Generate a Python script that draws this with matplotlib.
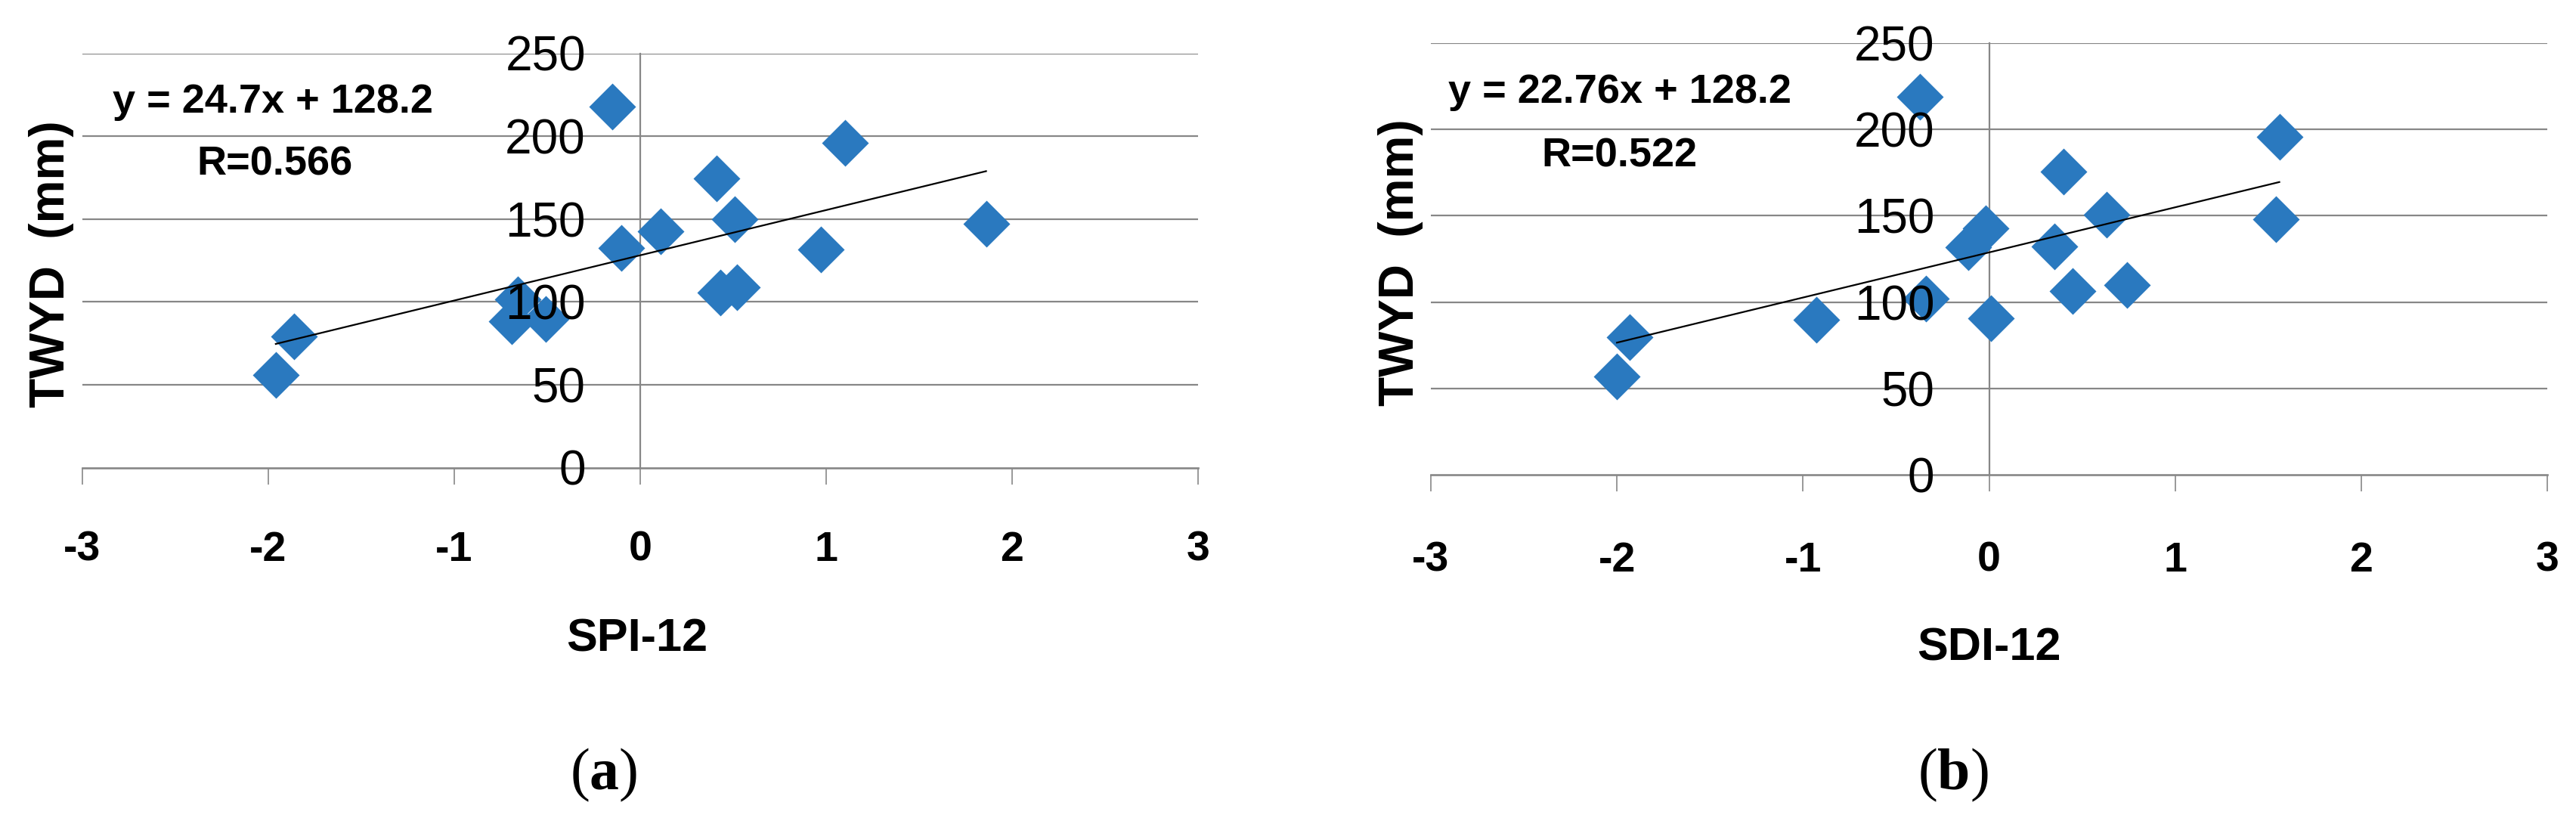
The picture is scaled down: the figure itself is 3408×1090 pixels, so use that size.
import numpy as np
import matplotlib
matplotlib.use('Agg')
import matplotlib.pyplot as plt

# ---------------- data ----------------
spi12 = [-0.15, 1.10, 0.41, 0.51, 1.86, 0.11, -0.10, 0.97, 0.43, 0.52, -0.69, -0.51, -0.66, -1.86, -1.96]
twyd_a = [218.0, 196.0, 174.5, 150.0, 147.3, 142.5, 132.5, 131.5, 105.5, 109.0, 88.5, 89.5, 101.5, 79.0, 55.7]

sdi12 = [-0.37, 1.56, 0.40, 0.63, 1.54, -0.02, -0.11, 0.35, 0.45, 0.74, -0.34, -0.93, 0.01, -1.93, -2.00]
twyd_b = [218.7, 195.8, 175.5, 150.6, 148.2, 142.8, 131.8, 132.2, 106.4, 110.1, 101.8, 89.8, 90.8, 79.7, 56.7]

x_ticks = [-3, -2, -1, 0, 1, 2, 3]
y_ticks = [0, 50, 100, 150, 200, 250]

eq_a = ["y = 24.7x + 128.2", "R=0.566"]
eq_b = ["y = 22.76x + 128.2", "R=0.522"]
xlabel_a, xlabel_b = "SPI-12", "SDI-12"
ylabel = "TWYD  (mm)"
panel_a, panel_b = r"($\mathbf{a}$)", r"($\mathbf{b}$)"

# ---------------- style ----------------
plt.rcParams['font.family'] = ['Liberation Sans', 'DejaVu Sans']
plt.rcParams['axes.unicode_minus'] = False
plt.rcParams['mathtext.fontset'] = 'custom'
plt.rcParams['mathtext.rm'] = 'Liberation Serif'
plt.rcParams['mathtext.bf'] = 'Liberation Serif:bold'

W, H = 3408, 1090
GRAY = '#878787'
BLUE = '#2A79BF'

fig = plt.figure(figsize=(W / 100, H / 100), dpi=100)


def rect(x0, x1, ytop, ybot):
    return [x0 / W, 1 - ybot / H, (x1 - x0) / W, (ybot - ytop) / H]


def fx(px):
    return px / W


def fy(py):
    return 1 - py / H


def setup(ax, xs, ys, xpad):
    ax.set_xlim(-3, 3)
    ax.set_ylim(0, 250)
    ax.set_xticks(x_ticks)
    ax.set_yticks(y_ticks)
    for s in ['top', 'right']:
        ax.spines[s].set_visible(False)
    ax.spines['left'].set_position(('data', 0))
    ax.spines['left'].set_color(GRAY)
    ax.spines['left'].set_linewidth(1.6)
    ax.spines['left'].set_zorder(1)
    ax.spines['bottom'].set_color(GRAY)
    ax.spines['bottom'].set_linewidth(1.9)
    ax.spines['bottom'].set_zorder(1)
    for v in ax.get_yticks():
        if v > 0:
            ax.axhline(v, color=GRAY, lw=1.6, zorder=0.5)
    ax.tick_params(axis='y', length=0, pad=52, labelsize=46)
    ax.tick_params(axis='x', direction='out', length=16, width=1.2, color=GRAY,
                   pad=xpad, labelsize=40)
    for lab in ax.get_xticklabels():
        lab.set_fontweight('bold')
    ax.yaxis.set_zorder(3)
    ax.patch.set_alpha(0)

    ax.plot(xs, ys, linestyle='none', marker='D', ms=32, mfc=BLUE, mec='none', zorder=2)
    coef = np.polyfit(xs, ys, 1)
    xr = np.array([min(xs), max(xs)])
    ax.plot(xr, np.polyval(coef, xr), color='black', lw=1.6, zorder=2.2)


axA = fig.add_axes(rect(109, 1585, 70.5, 618.5))
setup(axA, spi12, twyd_a, 44)
axB = fig.add_axes(rect(1893, 3370, 57, 628))
setup(axB, sdi12, twyd_b, 47)

# equations
fig.text(fx(361), fy(135), eq_a[0], fontsize=39, fontweight='bold', ha='center', va='center')
fig.text(fx(364), fy(217), eq_a[1], fontsize=39, fontweight='bold', ha='center', va='center')
fig.text(fx(2143), fy(122), eq_b[0], fontsize=39, fontweight='bold', ha='center', va='center')
fig.text(fx(2142), fy(206), eq_b[1], fontsize=39, fontweight='bold', ha='center', va='center')

# y labels
fig.text(fx(68), fy(349), ylabel, rotation=90, fontsize=46, fontweight='bold', ha='center', va='center')
fig.text(fx(1853), fy(347), ylabel, rotation=90, fontsize=46, fontweight='bold', ha='center', va='center')

# x labels
fig.text(fx(843), fy(846), xlabel_a, fontsize=44, fontweight='bold', ha='center', va='center')
fig.text(fx(2631), fy(858), xlabel_b, fontsize=44, fontweight='bold', ha='center', va='center')

# panel labels
fig.text(fx(799), fy(1025), panel_a, fontsize=56, family='Liberation Serif', ha='center', va='center')
fig.text(fx(2584), fy(1025), panel_b, fontsize=56, family='Liberation Serif', ha='center', va='center')

fig.savefig('out.png', dpi=100, facecolor='white')
